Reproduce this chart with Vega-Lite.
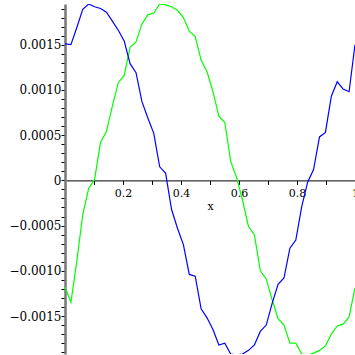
{
  "$schema": "https://vega.github.io/schema/vega-lite/v6.json",
  "width": 290,
  "height": 350,
  "autosize": {"type": "none"},
  "padding": {"left": 65, "top": 4, "right": 0, "bottom": 1},
  "background": "white",
  "config": {"view": {"stroke": null}},
  "datasets": {
    "blue": [
      {"x": 0, "y": 0.00151}, {"x": 0.0204, "y": 0.0015}, {"x": 0.0408, "y": 0.00169}, {"x": 0.0612, "y": 0.00189},
      {"x": 0.0816, "y": 0.00195}, {"x": 0.102, "y": 0.00192}, {"x": 0.1224, "y": 0.0019}, {"x": 0.1429, "y": 0.00186},
      {"x": 0.1633, "y": 0.00176}, {"x": 0.1837, "y": 0.00166}, {"x": 0.2041, "y": 0.00154}, {"x": 0.2245, "y": 0.00129},
      {"x": 0.2449, "y": 0.00119}, {"x": 0.2653, "y": 0.00087}, {"x": 0.2857, "y": 0.00069}, {"x": 0.3061, "y": 0.00052},
      {"x": 0.3265, "y": 0.00015}, {"x": 0.3469, "y": 0.00008}, {"x": 0.3673, "y": -0.00032}, {"x": 0.3878, "y": -0.00053},
      {"x": 0.4082, "y": -0.00071}, {"x": 0.4286, "y": -0.00104}, {"x": 0.449, "y": -0.00106}, {"x": 0.4694, "y": -0.00142},
      {"x": 0.4898, "y": -0.00152}, {"x": 0.5102, "y": -0.00165}, {"x": 0.5306, "y": -0.00182}, {"x": 0.551, "y": -0.0018},
      {"x": 0.5714, "y": -0.00192}, {"x": 0.5918, "y": -0.00193}, {"x": 0.6122, "y": -0.00192}, {"x": 0.6327, "y": -0.00188},
      {"x": 0.6531, "y": -0.00182}, {"x": 0.6735, "y": -0.00167}, {"x": 0.6939, "y": -0.0016}, {"x": 0.7143, "y": -0.00136},
      {"x": 0.7347, "y": -0.00115}, {"x": 0.7551, "y": -0.00108}, {"x": 0.7755, "y": -0.00075}, {"x": 0.7959, "y": -0.00066},
      {"x": 0.8163, "y": -0.00029}, {"x": 0.8367, "y": -0.00002}, {"x": 0.8571, "y": 0.00012}, {"x": 0.8776, "y": 0.00048},
      {"x": 0.898, "y": 0.00053}, {"x": 0.9184, "y": 0.00093}, {"x": 0.9388, "y": 0.00109}, {"x": 0.9592, "y": 0.00101},
      {"x": 0.9796, "y": 0.00098}, {"x": 1, "y": 0.0015}
    ],
    "green": [
      {"x": 0, "y": -0.00118}, {"x": 0.0204, "y": -0.00135}, {"x": 0.0408, "y": -0.00089}, {"x": 0.0612, "y": -0.00038},
      {"x": 0.0816, "y": -0.00009}, {"x": 0.102, "y": 0.00001}, {"x": 0.1224, "y": 0.00042}, {"x": 0.1429, "y": 0.00054},
      {"x": 0.1633, "y": 0.00082}, {"x": 0.1837, "y": 0.00108}, {"x": 0.2041, "y": 0.00116}, {"x": 0.2245, "y": 0.00147},
      {"x": 0.2449, "y": 0.00153}, {"x": 0.2653, "y": 0.00173}, {"x": 0.2857, "y": 0.00183}, {"x": 0.3061, "y": 0.00185},
      {"x": 0.3265, "y": 0.00195}, {"x": 0.3469, "y": 0.00194}, {"x": 0.3673, "y": 0.00192}, {"x": 0.3878, "y": 0.00188},
      {"x": 0.4082, "y": 0.0018}, {"x": 0.4286, "y": 0.00165}, {"x": 0.449, "y": 0.00159}, {"x": 0.4694, "y": 0.00133},
      {"x": 0.4898, "y": 0.0012}, {"x": 0.5102, "y": 0.00098}, {"x": 0.5306, "y": 0.00071}, {"x": 0.551, "y": 0.00064},
      {"x": 0.5714, "y": 0.00021}, {"x": 0.5918, "y": 0.00003}, {"x": 0.6122, "y": -0.00022}, {"x": 0.6327, "y": -0.00051},
      {"x": 0.6531, "y": -0.0006}, {"x": 0.6735, "y": -0.001}, {"x": 0.6939, "y": -0.00109}, {"x": 0.7143, "y": -0.00132},
      {"x": 0.7347, "y": -0.00153}, {"x": 0.7551, "y": -0.0016}, {"x": 0.7755, "y": -0.0018}, {"x": 0.7959, "y": -0.0018},
      {"x": 0.8163, "y": -0.00192}, {"x": 0.8367, "y": -0.00193}, {"x": 0.8571, "y": -0.00191}, {"x": 0.8776, "y": -0.00188},
      {"x": 0.898, "y": -0.00183}, {"x": 0.9184, "y": -0.0017}, {"x": 0.9388, "y": -0.00161}, {"x": 0.9592, "y": -0.00159},
      {"x": 0.9796, "y": -0.00151}, {"x": 1, "y": -0.00119}
    ]
  },
  "encoding": {
    "x": {
      "field": "x", "type": "quantitative",
      "scale": {"domain": [0, 1], "nice": false, "zero": false},
      "axis": {
        "title": "x",
        "values": [0.1, 0.2, 0.3, 0.4, 0.5, 0.6, 0.7, 0.8, 0.9, 1],
        "labelExpr": "(datum.value > 0.15 && datum.value < 0.25) ? '0.2' : (datum.value > 0.35 && datum.value < 0.45) ? '0.4' : (datum.value > 0.55 && datum.value < 0.65) ? '0.6' : (datum.value > 0.75 && datum.value < 0.85) ? '0.8' : (datum.value > 0.95) ? '1' : ''",
        "offset": -173.6,
        "grid": false,
        "domainColor": "black",
        "domainWidth": 1,
        "tickColor": "black",
        "tickSize": 4,
        "labelFont": "DejaVu Serif",
        "labelFontSize": 11,
        "labelColor": "black",
        "labelPadding": 3,
        "labelFlush": false,
        "labelOverlap": false,
        "titleFont": "DejaVu Serif",
        "titleFontSize": 11,
        "titleFontWeight": "normal",
        "titleColor": "black",
        "titlePadding": 2
      }
    },
    "y": {
      "field": "y", "type": "quantitative",
      "scale": {"domain": [-0.00192, 0.00195], "nice": false, "zero": false},
      "axis": {
        "title": null,
        "values": [-0.0019, -0.0018, -0.0017, -0.0016, -0.0015, -0.0014, -0.0013, -0.0012, -0.0011, -0.001, -0.0009, -0.0008, -0.0007, -0.0006, -0.0005, -0.0004, -0.0003, -0.0002, -0.0001, 0, 0.0001, 0.0002, 0.0003, 0.0004, 0.0005, 0.0006, 0.0007, 0.0008, 0.0009, 0.001, 0.0011, 0.0012, 0.0013, 0.0014, 0.0015, 0.0016, 0.0017, 0.0018, 0.0019],
        "labelExpr": "abs(round(datum.value * 10000)) % 5 == 0 ? (round(datum.value * 10000) == 0 ? '0' : format(datum.value, '.4f')) : ''",
        "grid": false,
        "domainColor": "#777777",
        "domainWidth": 2.5,
        "tickColor": "black",
        "tickSize": 4,
        "labelFont": "DejaVu Serif",
        "labelFontSize": 12,
        "labelColor": "black",
        "labelPadding": 0,
        "labelFlush": false,
        "labelOverlap": false
      }
    }
  },
  "layer": [
    {"data": {"name": "green"}, "mark": {"type": "line", "color": "#00ff00", "strokeWidth": 1.2, "clip": true}},
    {"data": {"name": "blue"}, "mark": {"type": "line", "color": "#0000ff", "strokeWidth": 1.2, "clip": true}}
  ]
}
